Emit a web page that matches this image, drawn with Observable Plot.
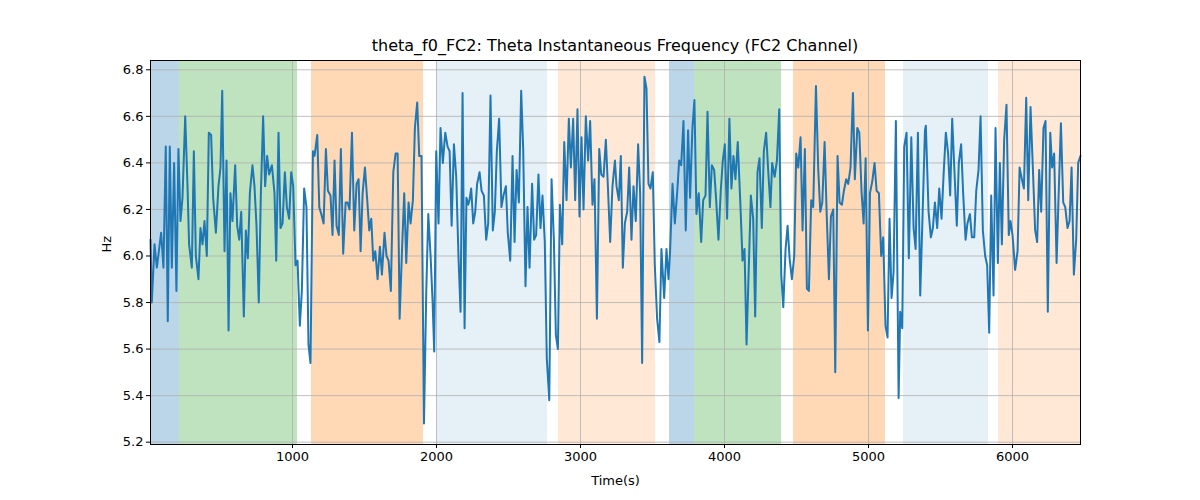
<!DOCTYPE html>
<html><head><meta charset="utf-8">
<script src="https://cdn.jsdelivr.net/npm/d3@7"></script>
<script src="https://cdn.jsdelivr.net/npm/@observablehq/plot@0.6"></script>
<style>
body{margin:0;background:#fff;font-family:"DejaVu Sans",sans-serif;}
#wrap{position:relative;width:1200px;height:500px;}
#title{position:absolute;top:36px;left:150px;width:930px;text-align:center;font-size:16px;color:#000;}
</style></head><body>
<div id="wrap"><div id="title">theta_f0_FC2: Theta Instantaneous Frequency (FC2 Channel)</div><div id="chart"></div></div>
<script>
const times = [14,23,42,58,88,104,120,134,148,162,178,194,208,222,236,255,271,282,301,315,329,347,361,375,389,405,419,435,449,468,486,500,512,528,542,556,569,583,602,616,630,644,662,676,690,704,722,736,750,766,780,796,810,824,838,857,875,887,903,917,931,947,961,977,991,1005,1021,1035,1051,1065,1081,1097,1111,
1125,1142,1153,1172,1186,1200,1216,1232,1246,1264,1278,1292,1306,1322,1336,1352,1369,1382,1396,1413,1429,1445,1459,1473,1487,1503,1519,1533,1547,1561,1575,1591,1607,1621,1639,1653,1667,1683,1700,1716,1730,1744,1762,1776,1790,1806,1820,1836,1850,1866,1880,1896,1913,1929,1943,1959,1973,1984,1998,2014,2028,2044,2061,2077,2091,2105,2121,2137,2153,2167,
2181,2195,2208,2220,2229,2241,2255,2269,2282,2299,2313,2329,2345,2359,2375,2391,2405,2419,2435,2451,2465,2482,2495,2512,2528,2542,2556,2572,2588,2602,2618,2632,2646,2664,2678,2692,2708,2722,2736,2752,2766,2783,2799,2815,2829,2843,2857,2873,2887,2903,2919,2933,2949,2963,2979,2993,3007,3021,3037,3053,3067,3083,3097,3114,3130,3144,3160,3176,3190,3206,3222,3239,
3250,3266,3280,3294,3308,3324,3338,3354,3368,3384,3400,3414,3428,3444,3458,3472,3486,3502,3516,3532,3548,3562,3581,3597,3611,3622,3639,3655,3671,3685,3699,3715,3731,3747,3761,3777,3791,3805,3821,3838,3852,3868,3882,3898,3912,3928,3942,3958,3974,3988,4002,4018,4034,4048,4062,4076,4092,4111,4125,4139,4153,4169,4183,4199,4213,4229,4243,4259,4273,4289,4303,4319,
4331,4348,4364,4380,4394,4408,4424,4438,4452,4468,4484,4498,4512,4528,4542,4558,4572,4586,4602,4616,4635,4651,4665,4679,4695,4709,4725,4739,4755,4769,4785,4799,4815,4829,4845,4859,4875,4892,4905,4922,4936,4952,4966,4980,4996,5010,5026,5042,5056,5072,5088,5102,5118,5132,5146,5160,5174,5190,5209,5220,5234,5248,5264,5280,5297,5313,5327,5343,5359,5375,5392,
5398,5417,5433,5447,5461,5477,5491,5507,5523,5537,5553,5567,5581,5597,5613,5627,5643,5657,5674,5687,5704,5718,5734,5748,5764,5778,5794,5810,5824,5838,5852,5868,5882,5898,5912,5926,5942,5958,5974,5986,6000,6018,6035,6049,6065,6079,6095,6109,6125,6141,6157,6171,6185,6199,6215,6229,6245,6262,6275,6289,6306,6319,6336,6352,6366,6382,6396,6410,6426,6442,6456,6472];
const hz = [6.07,5.8,6.05,5.95,6.1,5.95,6.47,5.72,6.47,5.95,6.4,5.85,6.46,6.15,6.25,6.6,6.3,6.05,5.95,6.45,6.0,5.9,6.12,6.05,6.15,6.0,6.53,6.52,6.25,6.1,6.3,6.38,6.71,6.02,6.41,5.68,6.27,6.15,6.39,6.13,6.07,6.19,5.74,6.11,5.99,6.27,6.39,6.3,6.13,5.8,6.26,6.6,6.3,6.43,6.35,6.39,6.27,5.98,6.53,6.12,6.14,6.36,6.21,6.16,6.36,6.3,5.96,5.98,5.7,5.85,6.29,6.21,5.62,
5.54,6.45,6.43,6.52,6.21,6.18,6.14,6.46,6.28,6.26,6.09,6.41,6.13,6.09,6.46,6.01,6.23,6.23,6.2,6.53,6.11,6.31,6.33,6.02,6.27,6.38,6.24,6.11,6.16,5.98,6.02,5.9,6.04,5.92,6.1,6.0,5.98,5.85,6.36,6.44,6.44,5.73,6.05,6.27,5.97,6.23,6.14,6.24,6.55,6.66,6.43,6.43,5.28,5.85,6.18,6.0,5.8,5.59,6.45,6.14,6.55,6.4,6.53,6.47,6.45,6.13,6.48,6.34,5.99,5.76,
6.7,5.69,6.25,6.22,6.24,6.29,6.14,6.19,6.31,6.36,6.28,6.26,6.07,6.14,6.69,6.11,6.19,6.45,6.59,6.21,6.26,6.3,6.1,5.98,6.43,6.06,6.37,6.23,6.71,6.46,5.87,6.21,5.95,6.31,6.07,6.09,6.35,6.12,6.26,6.06,5.56,5.38,6.33,6.07,5.66,5.6,6.22,6.05,6.49,6.24,6.59,6.38,6.59,6.24,6.63,6.17,6.51,6.2,6.6,6.41,6.58,6.22,6.33,5.73,6.46,6.35,6.34,6.5,6.3,6.06,6.3,6.41,
6.3,6.24,6.43,5.95,6.14,6.19,6.38,6.07,6.3,6.15,6.48,6.27,5.54,6.77,6.72,6.31,6.29,6.36,5.96,5.73,5.63,6.03,5.82,6.03,5.9,6.02,6.31,6.14,6.27,6.41,6.39,6.58,6.11,6.54,6.25,6.55,6.67,6.18,6.27,6.06,6.24,6.26,6.62,6.21,6.39,6.37,6.24,6.07,6.28,6.41,6.48,6.16,6.59,6.29,6.43,6.33,6.49,6.21,5.98,6.03,5.62,5.96,6.26,6.16,5.74,6.36,6.42,6.12,6.45,6.53,6.37,6.21,
6.4,6.34,6.41,6.63,5.92,5.78,6.03,6.13,5.99,5.9,6.0,6.44,6.38,6.51,6.11,6.46,5.86,5.85,6.24,6.21,6.73,6.37,6.19,6.23,6.49,6.19,5.9,6.17,6.2,5.5,6.43,6.23,6.22,6.28,6.33,6.31,6.38,6.7,6.33,6.55,6.53,6.27,6.14,6.42,5.68,6.27,6.32,6.4,6.28,6.27,6.0,6.08,5.7,5.65,6.16,5.82,5.93,6.58,5.39,5.76,5.69,6.47,6.53,5.99,6.51,6.12,6.03,6.53,5.83,6.17,6.54,
6.56,6.19,6.08,6.12,6.23,6.12,6.29,6.16,6.37,6.53,6.44,6.26,6.59,6.36,6.13,6.4,6.48,6.27,6.07,6.14,6.18,6.08,6.08,6.28,6.37,6.6,6.11,6.0,5.96,5.67,6.26,5.83,6.55,5.97,6.4,6.05,6.5,6.65,6.09,6.15,6.09,5.94,6.02,6.38,6.33,6.29,6.68,6.24,6.64,6.38,6.11,6.06,6.37,6.19,6.55,6.58,5.76,6.53,6.38,6.44,5.97,6.24,6.57,6.23,6.21,6.12,6.15,6.38,5.92,6.07,6.4,6.43];

const bandStart = [14,215,1132,2000,2847,3618,3792,4479,5243,5903];
const bandEnd   = [215,1035,1910,2771,3521,3792,4396,5118,5833,6472];
const bandKind  = ["blue","green","orange","lightblue","lightorange","blue","green","orange","lightblue","lightorange"];
const xTicks = [1000,2000,3000,4000,5000,6000];
const yTicks = [5.2,5.4,5.6,5.8,6.0,6.2,6.4,6.6,6.8];

const kindFill = {blue:"#1f77b4",green:"#2ca02c",orange:"#ff7f0e",lightblue:"#1f77b4",lightorange:"#ff7f0e"};
const kindOp = {blue:0.3,green:0.3,orange:0.3,lightblue:0.11,lightorange:0.17};
const bands = bandStart.map((s,i)=>({x1:s,x2:bandEnd[i],k:bandKind[i]}));
const pts = times.map((t,i)=>({t,v:hz[i]}));

const chart = Plot.plot({
  width:1200,height:500,
  marginLeft:150,marginRight:120,marginTop:60,marginBottom:56,
  style:{fontFamily:"DejaVu Sans",fontSize:"13px",color:"#000",background:"#fff"},
  x:{domain:[14,6472],label:null},
  y:{domain:[5.19,6.84],label:null},
  marks:[
    Plot.rectY(bands,{x1:"x1",x2:"x2",y1:5.19,y2:6.84,fill:d=>kindFill[d.k],fillOpacity:d=>kindOp[d.k]}),
    Plot.gridX(xTicks,{stroke:"#b0b0b0",strokeOpacity:1,strokeWidth:0.8}),
    Plot.gridY(yTicks,{stroke:"#b0b0b0",strokeOpacity:1,strokeWidth:0.8}),
    Plot.line(pts,{x:"t",y:"v",stroke:"#1f77b4",strokeWidth:2}),
    Plot.frame({stroke:"#000",strokeWidth:1}),
    Plot.axisX(xTicks,{tickSize:4,tickPadding:3,fontSize:13,tickFormat:d=>String(d),label:null}),
    Plot.axisY(yTicks,{tickSize:4,tickPadding:3,fontSize:13,tickFormat:d=>d.toFixed(1),label:null}),
    Plot.text(["Time(s)"],{frameAnchor:"bottom",dy:40,fontSize:13}),
    Plot.text(["Hz"],{frameAnchor:"left",dx:-44,rotate:-90,fontSize:13})
  ]
});
document.getElementById("chart").appendChild(chart);
</script></body></html>
